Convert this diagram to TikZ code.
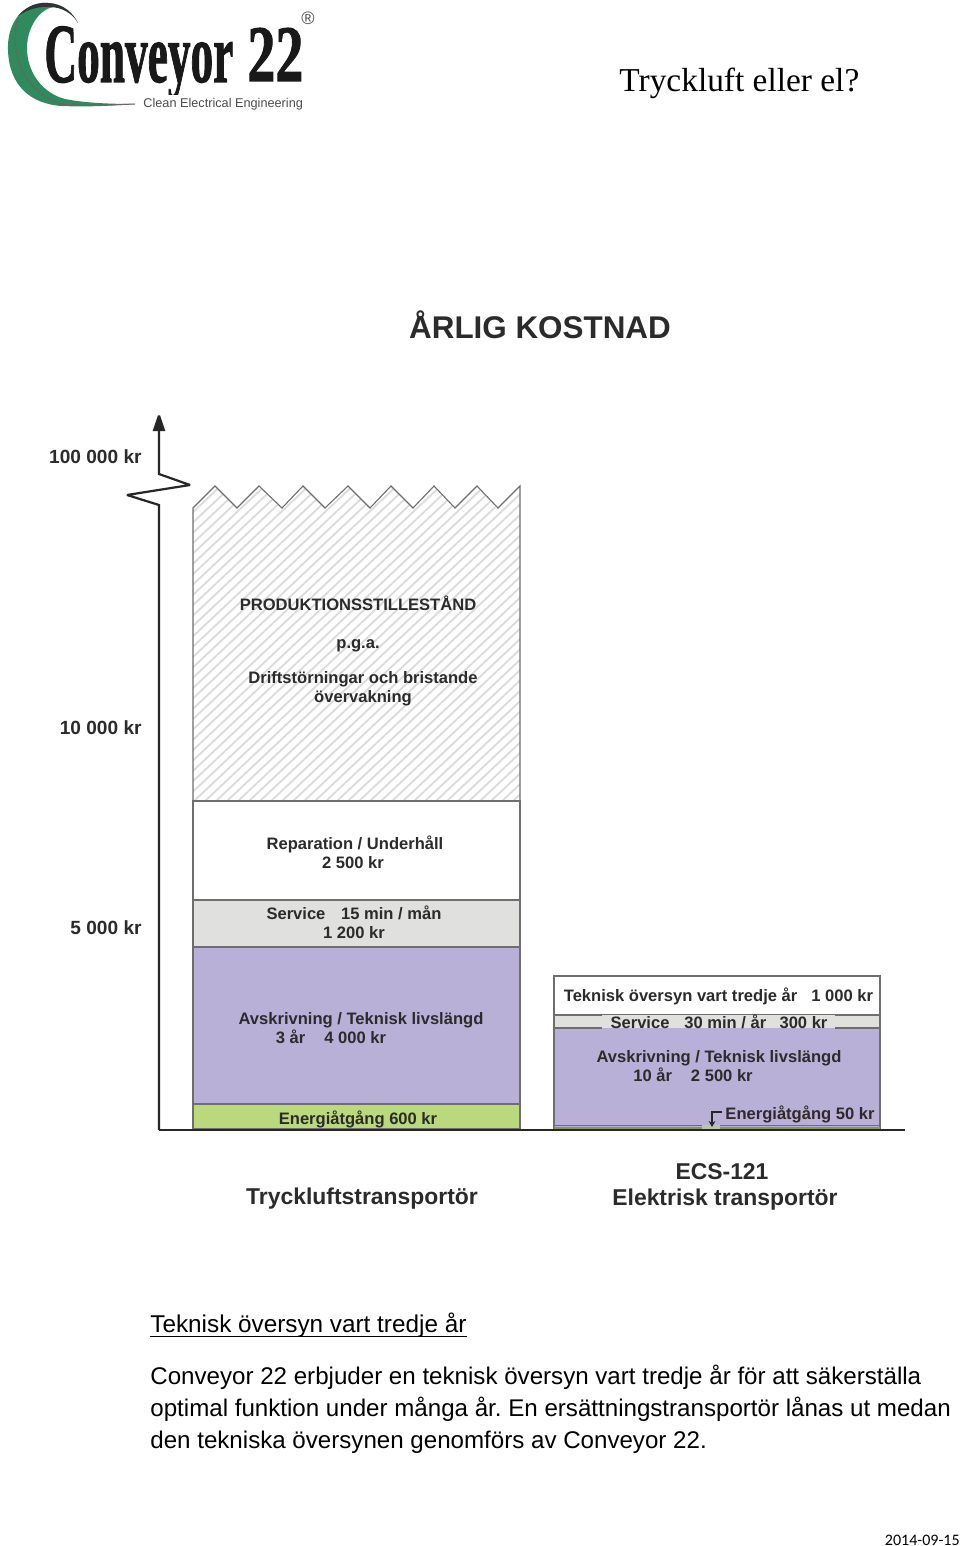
\documentclass[tikz,border=0pt]{standalone}
\usepackage{fontspec}
\usepackage{graphicx}
\setmainfont{Liberation Sans}
\newfontfamily\serifcap{Liberation Serif}
\newfontfamily\logofont{Liberation Serif}[BoldFeatures={FakeBold=1.5}]
\newfontfamily\foot{Carlito}
\usetikzlibrary{arrows.meta}
\definecolor{ink}{HTML}{2B2B2B}
\definecolor{edge}{HTML}{6E6E6E}
\definecolor{purp}{HTML}{B8B0D6}
\definecolor{lgray}{HTML}{E0E0DE}
\definecolor{lgreen}{HTML}{B9D97C}
\definecolor{swoosh}{HTML}{2F8A5E}
\frenchspacing
\tikzset{
  x=0.5pt,y=-0.5pt,
  lbl/.style={font=\bfseries\fontsize{8.28}{9.4}\selectfont,text=ink,inner sep=0pt,align=center},
  axlbl/.style={lbl,font=\bfseries\fontsize{9.55}{10}\selectfont},
  captxt/.style={lbl,font=\bfseries\fontsize{11.45}{13}\selectfont},
  body/.style={font=\fontsize{12.06}{16}\selectfont,text=black,inner sep=0pt,align=left,anchor=base west},
  layer/.style={draw=edge,line width=0.55pt},
  axisline/.style={draw=black!85,line width=1.1pt,miter limit=3},
}
\begin{document}
\begin{tikzpicture}
\useasboundingbox (0,0) rectangle (960,1546);
\fill[white] (0,0) rectangle (960,1546);
% logo
\fill[swoosh] (78,23) .. controls (70,8) and (58,2) .. (42,3) .. controls (18,6) and (7,28) .. (8,50)
  .. controls (9,85) and (30,104) .. (62,106) .. controls (85,107) and (110,106) .. (135,104)
  .. controls (110,104) and (85,103) .. (65,99) .. controls (42,93) and (27,72) .. (27,48)
  .. controls (27,25) and (42,7) .. (55,7) .. controls (65,7) and (74,14) .. (78,23) -- cycle;
\fill[black!80] (78,23) .. controls (70,8) and (58,2) .. (42,3) .. controls (32,4) and (24,9) .. (18,16)
  .. controls (28,9) and (40,6) .. (50,7) .. controls (62,7) and (73,14) .. (78,23) -- cycle;
\draw[black!60,line width=0.5pt] (18,18) .. controls (10,45) and (17,88) .. (60,104) .. controls (85,106) and (110,105) .. (135,104);
\begin{scope}
\clip (0,0) rectangle (245,95);
\node[inner sep=0pt,anchor=base west,text=black!90] (logoa) at (44,82) {\scalebox{0.54}[1]{\logofont\bfseries\fontsize{42}{42}\selectfont Conveyor}};
\end{scope}
\node[inner sep=0pt,anchor=base west,text=black!90] (logob) at (247,81) {\scalebox{0.7}[1]{\logofont\bfseries\fontsize{40}{40}\selectfont 22}};
\node[inner sep=0pt,anchor=base west,text=black!70] (logoc) at (143,108) {\fontsize{6.35}{7}\selectfont Clean Electrical Engineering};
\node[inner sep=0pt,text=black!70] (logor) at (308,18) {\fontsize{9}{9}\selectfont ®};
% title
\node[inner sep=0pt,anchor=base west] (title) at (619,92) {\serifcap\fontsize{16.7}{18}\selectfont Tryckluft eller el?};
\node[inner sep=0pt,text=ink] (head) at (540,325) {\bfseries\fontsize{15.7}{18}\selectfont ÅRLIG KOSTNAD};
% left bar: hatched part
\begin{scope}
\clip (193,508) -- (215,486) -- (237,508) -- (259,486) -- (282,508) -- (303,486) -- (325,508) -- (348,486) -- (370,508) -- (391,486) -- (413,508) -- (434,486) -- (455,508) -- (477,486) -- (498,508) -- (520,486) -- (520,801) -- (193,801) -- cycle;
\foreach \k in {0,11,...,726}{
  \draw[black!14,line width=0.9pt] (193+\k-340,801) -- (193+\k,481);
}
\end{scope}
\draw[layer] (193,801) -- (193,508) -- (215,486) -- (237,508) -- (259,486) -- (282,508) -- (303,486) -- (325,508) -- (348,486) -- (370,508) -- (391,486) -- (413,508) -- (434,486) -- (455,508) -- (477,486) -- (498,508) -- (520,486) -- (520,801);
\filldraw[layer,fill=white] (193,801) rectangle (520,900);
\filldraw[layer,fill=lgray] (193,900) rectangle (520,947);
\filldraw[layer,fill=purp] (193,947) rectangle (520,1104);
\filldraw[layer,fill=lgreen] (193,1104) rectangle (520,1129);
% right bar
\filldraw[layer,fill=white] (554,976) rectangle (880,1015);
\fill[lgray] (554,1015) rectangle (880,1028);
\fill[purp] (554,1028) rectangle (880,1129);
\draw[layer] (554,1015) -- (554,1129) (880,1015) -- (880,1129);
\draw[layer] (554,1015) -- (602,1015) (835,1015) -- (880,1015);
\draw[layer] (554,1028) -- (602,1028) (835,1028) -- (880,1028);
\fill[lgreen!70!black] (554,1126.5) rectangle (880,1129);
\fill[purp!50!lgreen] (702,1125) rectangle (720,1129);
\draw[layer] (554,1125.5) -- (702,1125.5) (720,1125.5) -- (880,1125.5);
% labels in bars
\node[lbl] (pa) at (358,603) {PRODUKTIONSSTILLESTÅND};
\node[lbl] (pb) at (358,646) {p.g.a.};
\node[lbl] (pc) at (363,689) {Driftstörningar och bristande\\övervakning};
\node[lbl] (rep) at (355,852) {Reparation / Underhåll\\\hspace*{0pt}2 500 kr\hspace*{2pt}};
\node[lbl] (svc) at (354,922) {Service\hspace{0.95em}15 min / mån\\1 200 kr};
\node[lbl] (avs) at (361,1028) {Avskrivning / Teknisk livslängd\\3 år\hspace{1.15em}4 000 kr\hspace*{30pt}};
\node[lbl] (ene) at (358,1119) {Energiåtgång 600 kr};
\node[lbl] (tek) at (718.5,996) {Teknisk översyn vart tredje år\hspace{0.85em}1 000 kr};
\node[lbl] (svr) at (719,1022) {Service\hspace{0.9em}30 min / år\hspace{0.8em}300 kr};
\node[lbl] (avr) at (719,1066) {Avskrivning / Teknisk livslängd\\10 år\hspace{1.15em}2 500 kr\hspace*{26pt}};
\node[lbl] (enr) at (800,1114) {Energiåtgång 50 kr};
\coordinate (arra) at (722,1112);
\coordinate (arrb) at (712,1112);
\coordinate (arrc) at (712,1127);
\draw[black!85,line width=0.7pt,-{Stealth[length=3pt,width=3.4pt]}] (arra) -- (arrb) -- (arrc);
% axes
\coordinate (a0) at (159,1130);
\coordinate (a1) at (159,505);
\coordinate (a2) at (127,495);
\coordinate (a3) at (190,485);
\coordinate (a4) at (159,474);
\coordinate (a5) at (159,412);
\coordinate (b1) at (905,1130);
\draw[axisline,-{Triangle[length=9.5pt,width=6pt]}] (a0) -- (a1) -- (a2) -- (a3) -- (a4) -- (a5);
\draw[axisline] (a0) -- (b1);
\node[axlbl,anchor=east] (t1) at (142,457) {100 000 kr};
\node[axlbl,anchor=east] (t2) at (142,728) {10 000 kr};
\node[axlbl,anchor=east] (t3) at (142,928) {5 000 kr};
% captions
\node[captxt] (c1) at (362,1199) {Tryckluftstransportör};
\node[captxt] (c2) at (725,1187) {ECS-121\hspace*{3pt}\\Elektrisk transportör};
% body
\node[body,font=\fontsize{12.15}{16}\selectfont] (hd) at (150,1332) {Teknisk översyn vart tredje år};
\draw[black,line width=0.5pt] ([yshift=-2pt]hd.base west) -- ([yshift=-2pt]hd.base east);
\node[body] (l1) at (150,1384) {Conveyor 22 erbjuder en teknisk översyn vart tredje år för att säkerställa};
\node[body] (l2) at (150,1416) {optimal funktion under många år. En ersättningstransportör lånas ut medan};
\node[body] (l3) at (150,1448) {den tekniska översynen genomförs av Conveyor 22.};
\node[inner sep=0pt,anchor=base east] (dt) at (960,1545) {\foot\fontsize{8}{9}\selectfont 2014-09-15};
\end{tikzpicture}
\end{document}
